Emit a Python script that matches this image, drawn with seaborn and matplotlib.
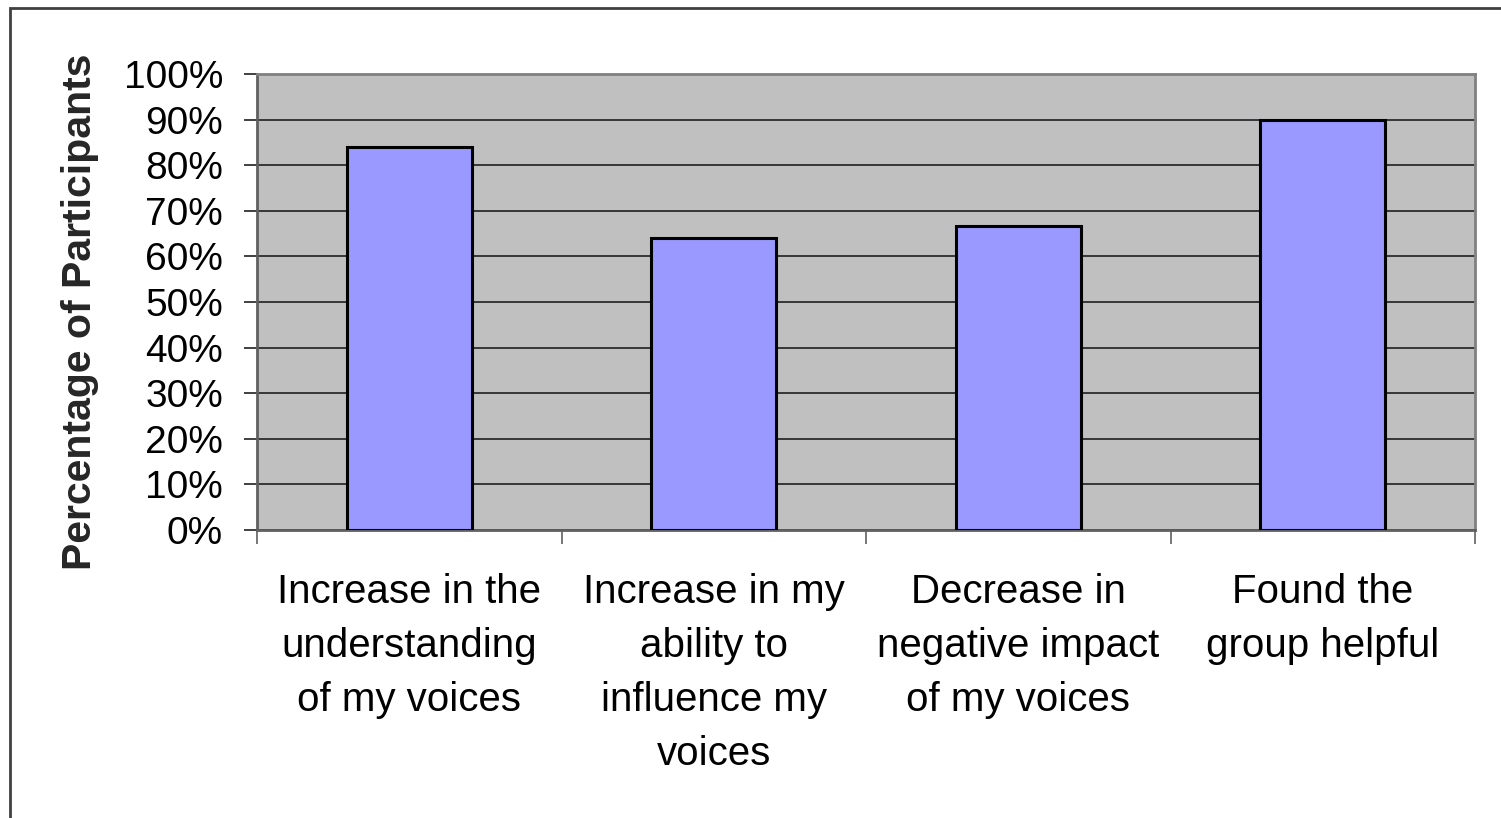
import matplotlib
matplotlib.use("Agg")
import matplotlib.pyplot as plt
import seaborn as sns
import pandas as pd
from matplotlib.ticker import MultipleLocator, FixedLocator, PercentFormatter
from matplotlib.patches import Rectangle

categories = [
    "Increase in the\nunderstanding\nof my voices",
    "Increase in my\nability to\ninfluence my\nvoices",
    "Decrease in\nnegative impact\nof my voices",
    "Found the\ngroup helpful",
]
percentages = [84, 64, 66.7, 90]

sns.set_theme(style="white")
plt.rcParams["font.family"] = ["Liberation Sans", "DejaVu Sans"]

df = pd.DataFrame({"category": categories, "pct": percentages})

fig = plt.figure(figsize=(15.01, 8.18), dpi=100)
ax = fig.add_axes([257 / 1501, 1 - 530 / 818, (1475 - 257) / 1501, (530 - 74) / 818])

sns.barplot(data=df, x="category", y="pct", color="#9999FF", saturation=1,
            width=0.41, edgecolor="black", linewidth=2.2, ax=ax, zorder=3)

ax.set_facecolor("#C0C0C0")
ax.set_ylim(0, 100)
ax.set_xlim(-0.5, 3.5)
ax.yaxis.set_major_locator(MultipleLocator(10))
ax.yaxis.set_major_formatter(PercentFormatter(decimals=0))
ax.grid(axis="y", color="#202020", linewidth=1.2, zorder=1)
ax.set_axisbelow(True)

for side in ["top", "right"]:
    ax.spines[side].set_color("#808080")
    ax.spines[side].set_linewidth(2)
ax.spines["left"].set_color("#606060")
ax.spines["bottom"].set_color("#606060")
ax.spines["left"].set_linewidth(2)
ax.spines["bottom"].set_linewidth(2)

ax.tick_params(axis="y", labelsize=28, length=9.5, width=1.2, color="#202020",
               pad=15, left=True, labelcolor="black")
ax.tick_params(axis="x", which="major", length=0, labelsize=29, pad=31,
               labelcolor="black")
ax.xaxis.set_minor_locator(FixedLocator([-0.5, 0.5, 1.5, 2.5, 3.5]))
ax.tick_params(axis="x", which="minor", bottom=True, length=10, width=1.2,
               color="#606060")
for lbl in ax.get_xticklabels():
    lbl.set_horizontalalignment("center")
    lbl.set_verticalalignment("top")
    lbl.set_multialignment("center")
    lbl.set_linespacing(1.53)

ax.set_xlabel("")
ax.set_ylabel("Percentage of Participants", fontsize=29.5, fontweight="bold")
ax.yaxis.set_label_coords((80 - 257) / 1218, (530 - 312) / 456)
ax.yaxis.label.set_verticalalignment("center")

# outer chart frame
fig.patches.append(Rectangle((10 / 1501, -0.01), 1.1, 1 - 8 / 818 + 0.01,
                             transform=fig.transFigure, fill=False,
                             edgecolor="#404040", linewidth=2))

fig.savefig("out.png", dpi=100)
